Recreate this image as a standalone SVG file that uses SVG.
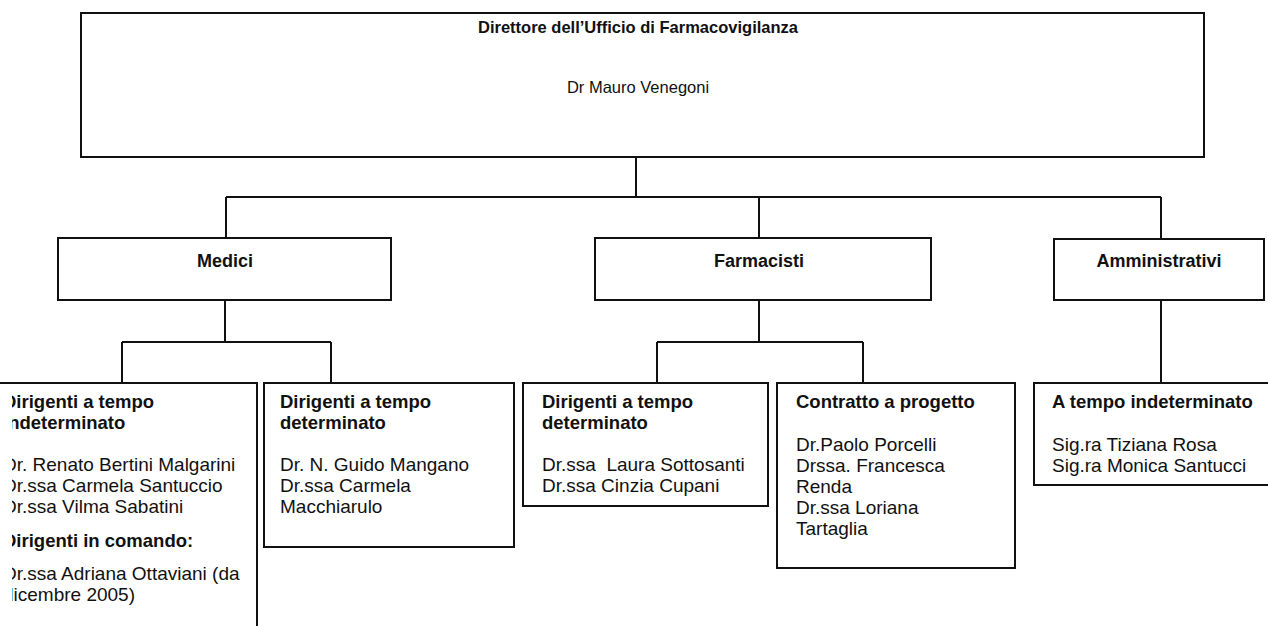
<svg xmlns="http://www.w3.org/2000/svg" width="1268" height="626" viewBox="0 0 1268 626">
<style>
.box{fill:#fff;stroke:#111;stroke-width:2}
.ln{fill:none;stroke:#111;stroke-width:2}
text{font-family:"Liberation Sans",Arial,sans-serif;fill:#111}
.t{font-size:16.5px;font-weight:bold;text-anchor:middle}
.n{font-size:16.5px;text-anchor:middle}
.lb{font-size:18px;font-weight:bold;text-anchor:middle}
.h{font-size:18.5px;font-weight:bold}
.p{font-size:19px}
</style>
<defs>
<clipPath id="clipL"><rect x="12" y="370" width="260" height="260"/></clipPath>
</defs>
<rect width="1268" height="626" fill="#fff"/>
<g id="connectors">
<path class="ln" d="M636 157V197M226 197H1161M226 197V238M759 197V238M1161 197V239"/>
<path class="ln" d="M225 300V342M122 342H331M122 342V383M331 342V383"/>
<path class="ln" d="M759 300V342M657 342H863M657 342V383M863 342V383"/>
<path class="ln" d="M1161 300V383"/>
</g>
<g id="direttore">
<rect class="box" x="81" y="13" width="1123" height="144"/>
<text class="t" x="638" y="33">Direttore dell’Ufficio di Farmacovigilanza</text>
<text class="n" x="638" y="93">Dr Mauro Venegoni</text>
</g>
<g id="medici">
<rect class="box" x="58" y="238" width="333" height="62"/>
<text class="lb" x="225" y="267">Medici</text>
</g>
<g id="farmacisti">
<rect class="box" x="595" y="238" width="336" height="62"/>
<text class="lb" x="759" y="267">Farmacisti</text>
</g>
<g id="amministrativi">
<rect class="box" x="1054" y="239" width="210" height="61"/>
<text class="lb" x="1159" y="267">Amministrativi</text>
</g>
<g id="medici-indeterminato">
<rect class="box" x="-10" y="383" width="267" height="300"/>
<g clip-path="url(#clipL)">
<text class="h" x="3" y="408">Dirigenti a tempo</text>
<text class="h" x="3" y="429">indeterminato</text>
<text class="p" x="3" y="471">Dr. Renato Bertini Malgarini</text>
<text class="p" x="3" y="492">Dr.ssa Carmela Santuccio</text>
<text class="p" x="3" y="513">Dr.ssa Vilma Sabatini</text>
<text class="h" x="3" y="547">Dirigenti in comando:</text>
<text class="p" x="3" y="580">Dr.ssa Adriana Ottaviani (da</text>
<text class="p" x="3" y="601">dicembre 2005)</text>
</g>
</g>
<g id="medici-determinato">
<rect class="box" x="264" y="383" width="250" height="164"/>
<text class="h" x="280" y="408">Dirigenti a tempo</text>
<text class="h" x="280" y="429">determinato</text>
<text class="p" x="280" y="471">Dr. N. Guido Mangano</text>
<text class="p" x="280" y="492">Dr.ssa Carmela</text>
<text class="p" x="280" y="513">Macchiarulo</text>
</g>
<g id="farmacisti-determinato">
<rect class="box" x="523" y="383" width="245" height="123"/>
<text class="h" x="542" y="408">Dirigenti a tempo</text>
<text class="h" x="542" y="429">determinato</text>
<text class="p" x="542" y="471" xml:space="preserve">Dr.ssa  Laura Sottosanti</text>
<text class="p" x="542" y="492">Dr.ssa Cinzia Cupani</text>
</g>
<g id="farmacisti-progetto">
<rect class="box" x="777" y="383" width="238" height="185"/>
<text class="h" x="796" y="408">Contratto a progetto</text>
<text class="p" x="796" y="451">Dr.Paolo Porcelli</text>
<text class="p" x="796" y="472">Drssa. Francesca</text>
<text class="p" x="796" y="493">Renda</text>
<text class="p" x="796" y="514">Dr.ssa Loriana</text>
<text class="p" x="796" y="535">Tartaglia</text>
</g>
<g id="amministrativi-indeterminato">
<rect class="box" x="1034" y="383" width="240" height="102"/>
<text class="h" x="1052" y="408">A tempo indeterminato</text>
<text class="p" x="1052" y="451">Sig.ra Tiziana Rosa</text>
<text class="p" x="1052" y="472">Sig.ra Monica Santucci</text>
</g>
</svg>
